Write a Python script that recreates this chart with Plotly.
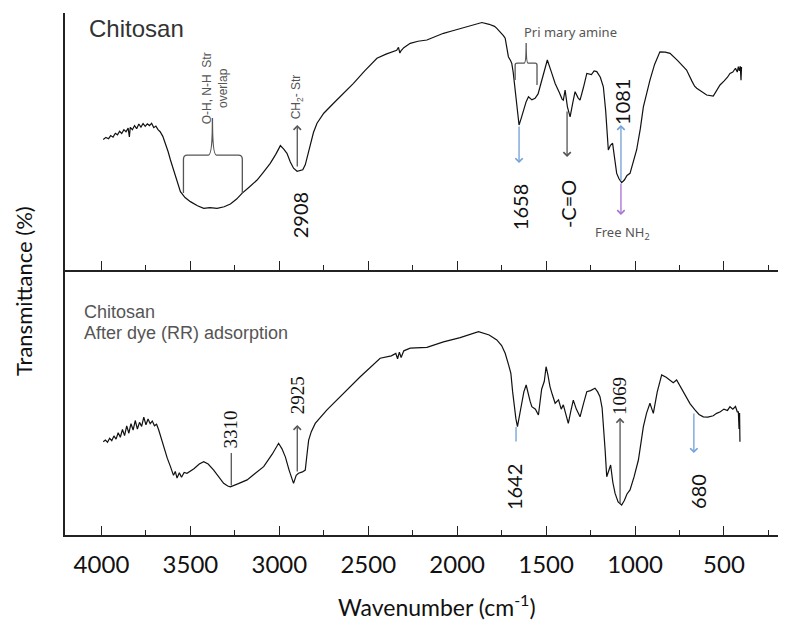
import plotly.graph_objects as go

# ---------------- data ----------------
top_wn = [3990, 3975, 3960, 3948, 3935, 3922, 3910, 3898, 3886, 3874, 3862, 3850, 3843, 3838,
          3826, 3814, 3802, 3790, 3778, 3766, 3754, 3742, 3730, 3718, 3706, 3694, 3682, 3670,
          3655, 3640, 3625, 3612, 3598, 3584, 3570, 3556, 3530, 3500, 3460, 3425, 3390, 3350,
          3310, 3275, 3240, 3210, 3170, 3125, 3090, 3051, 3020, 2994, 2975, 2957, 2938, 2920,
          2900, 2882, 2868, 2854, 2840, 2826, 2808, 2788, 2750, 2695, 2640, 2583, 2520, 2451,
          2400, 2358, 2340, 2330, 2322, 2316, 2300, 2264, 2220, 2170, 2120, 2077, 2030, 1983,
          1940, 1900, 1861, 1820, 1790, 1777, 1755, 1740, 1730, 1720, 1712, 1700, 1693, 1685,
          1680, 1670, 1660, 1652, 1640, 1627, 1612, 1599, 1580, 1562, 1545, 1534, 1515, 1493,
          1470, 1449, 1425, 1410, 1403, 1393, 1380, 1365, 1350, 1337, 1320, 1309, 1290, 1271,
          1245, 1230, 1215, 1195, 1178, 1165, 1150, 1138, 1126, 1115, 1103, 1090, 1075, 1060,
          1045, 1028, 1010, 991, 970, 953, 935, 916, 890, 860, 830, 803, 760, 730, 710, 680,
          665, 653, 630, 610, 597, 560, 540, 522, 500, 480, 466, 450, 435, 425, 419, 413,
          408, 404, 401]
top_T = [50.8, 51.6, 51.1, 52.3, 51.7, 53.2, 52.6, 54.0, 53.1, 54.6, 53.8, 55.2, 51.8, 55.5,
         54.6, 56.2, 55.0, 56.8, 55.6, 57.0, 55.9, 56.9, 56.2, 57.1, 55.4, 56.0, 54.6, 53.8,
         52.0, 49.3, 46.0, 42.8, 39.5, 36.3, 33.2, 30.5, 28.2, 26.6, 25.0, 24.0, 24.3, 24.0,
         24.6, 25.7, 27.6, 29.8, 32.2, 35.0, 38.0, 41.5, 45.0, 48.4, 47.0, 45.4, 42.0, 39.6,
         38.4, 38.6, 39.0, 40.9, 45.0, 49.3, 53.5, 57.1, 61.0, 64.9, 68.8, 72.6, 77.5, 82.4,
         84.0, 84.9, 85.5, 86.6, 84.4, 85.3, 86.5, 88.2, 89.0, 89.5, 90.8, 92.1, 93.0, 94.0,
         94.8, 95.6, 96.3, 95.6, 94.8, 94.0, 92.5, 91.2, 90.2, 86.0, 83.0, 81.5, 80.4, 77.0,
         73.9, 66.0, 59.5, 56.4, 59.0, 62.3, 65.5, 67.4, 66.2, 66.8, 68.5, 71.3, 76.5, 81.7,
         77.0, 72.6, 69.0, 66.5, 66.1, 70.0, 63.5, 59.6, 65.0, 69.4, 67.0, 66.1, 71.0, 76.5,
         76.0, 77.5, 77.2, 75.0, 71.3, 62.0, 46.7, 48.5, 49.3, 43.0, 37.6, 35.5, 34.0, 35.0,
         36.8, 37.6, 42.0, 46.7, 55.0, 63.5, 68.5, 73.9, 80.0, 84.9, 84.8, 84.3, 81.5, 79.5,
         77.8, 73.5, 71.5, 70.7, 69.5, 68.5, 68.1, 67.7, 70.0, 72.0, 73.5, 75.0, 76.5, 77.0,
         78.5, 77.0, 79.1, 77.5, 79.3, 73.8, 79.0]

bot_wn = [3990, 3978, 3966, 3954, 3942, 3930, 3918, 3906, 3894, 3882, 3870, 3858, 3846, 3834,
          3822, 3810, 3798, 3786, 3774, 3762, 3750, 3738, 3726, 3714, 3702, 3690, 3678, 3665,
          3650, 3630, 3612, 3595, 3585, 3575, 3562, 3550, 3535, 3519, 3480, 3450, 3425, 3400,
          3369, 3340, 3313, 3290, 3275, 3230, 3181, 3140, 3088, 3040, 3004, 2985, 2966, 2945,
          2930, 2920, 2905, 2892, 2870, 2854, 2845, 2835, 2820, 2798, 2732, 2639, 2545, 2433,
          2370, 2345, 2335, 2325, 2315, 2300, 2264, 2170, 2077, 1983, 1930, 1880, 1820, 1777,
          1750, 1730, 1710, 1698, 1688, 1680, 1670, 1661, 1650, 1637, 1625, 1612, 1600, 1590,
          1580, 1560, 1543, 1525, 1510, 1500, 1490, 1478, 1465, 1449, 1430, 1415, 1403, 1390,
          1375, 1360, 1347, 1330, 1309, 1290, 1271, 1250, 1225, 1210, 1197, 1185, 1178, 1168,
          1159, 1148, 1137, 1125, 1112, 1095, 1075, 1060, 1045, 1028, 1005, 981, 965, 953,
          935, 916, 905, 897, 875, 850, 825, 803, 785, 766, 740, 710, 690, 663, 640, 616,
          590, 560, 541, 520, 500, 480, 466, 450, 435, 425, 419, 415, 412, 410]
bot_T = [35.2, 35.8, 35.0, 36.5, 35.6, 37.4, 36.2, 38.6, 36.9, 39.8, 37.5, 41.2, 38.4, 42.0,
         39.6, 43.2, 40.0, 42.5, 41.0, 44.5, 41.6, 43.8, 42.0, 43.0, 41.2, 41.8, 39.6, 36.5,
         33.3, 29.0, 25.8, 22.5, 24.0, 21.5, 23.5, 21.8, 23.6, 23.3, 25.0, 26.8, 27.7, 26.8,
         24.5, 21.8, 19.5, 18.5, 18.2, 19.4, 20.8, 23.0, 25.8, 30.5, 34.6, 32.5, 29.5, 24.5,
         21.0, 19.5, 22.5, 23.3, 23.8, 24.5, 30.0, 35.8, 39.0, 42.1, 47.2, 53.5, 59.7, 66.7,
         67.6, 68.5, 66.5, 69.0, 67.0, 69.5, 70.5, 70.8, 72.9, 74.5, 75.5, 76.7, 75.5, 73.6,
         71.5, 68.6, 64.0, 61.0, 54.0, 48.4, 44.0, 40.9, 45.0, 50.9, 54.0, 56.6, 52.5, 50.5,
         48.4, 47.5, 45.3, 55.0, 58.0, 63.5, 60.5, 56.0, 53.0, 49.7, 51.0, 47.5, 49.1, 46.0,
         42.1, 47.0, 50.9, 47.5, 44.6, 49.5, 54.1, 54.5, 55.4, 54.0, 52.2, 48.0, 42.1, 32.0,
         22.0, 24.5, 26.4, 20.0, 15.7, 12.5, 11.3, 13.0, 15.5, 17.0, 22.0, 28.3, 35.0, 40.9,
         46.0, 49.7, 47.5, 45.9, 54.0, 60.4, 59.5, 58.5, 57.5, 58.5, 55.5, 52.2, 49.5, 47.2,
         45.5, 44.6, 44.5, 45.0, 45.9, 46.5, 47.5, 47.0, 48.4, 47.5, 48.5, 46.5, 46.5, 40.0,
         46.0, 35.2]

x_ticks = [4000, 3500, 3000, 2500, 2000, 1500, 1000, 500]
x_tick_labels = ["4000", "3500", "3000", "2500", "2000", "1500", "1000", "500"]

# ---------------- figure ----------------
# the page body has an 8px default margin, so the figure is 8px smaller
OFF = 8
W, H = 786 - OFF, 634 - OFF
ML, MR, MT, MB = 65 - OFF, 0, 13 - OFF, 634 - 535
split = 265 / 522.0

fig = go.Figure()
line_style = dict(color="#111111", width=1.2)
fig.add_trace(go.Scatter(x=top_wn, y=top_T, mode="lines", line=line_style,
                         xaxis="x", yaxis="y", showlegend=False, hoverinfo="skip"))
fig.add_trace(go.Scatter(x=bot_wn, y=bot_T, mode="lines", line=line_style,
                         xaxis="x2", yaxis="y2", showlegend=False, hoverinfo="skip"))

xr = [4205, 151]
axis_common = dict(range=xr, showgrid=False, zeroline=False, showline=True,
                   linecolor="#222222", linewidth=1.6, ticks="inside", ticklen=9,
                   tickwidth=1.4, tickcolor="#222222", tickvals=x_ticks,
                   minor=dict(dtick=250, tick0=0, ticks="inside", ticklen=5,
                              tickwidth=1.2, tickcolor="#222222"))
yaxis_common = dict(range=[0, 100], showgrid=False, zeroline=False, showline=True,
                    linecolor="#222222", linewidth=1.6, ticks="", showticklabels=False)

fig.update_layout(
    width=W, height=H, margin=dict(l=ML, r=MR, t=MT, b=MB),
    paper_bgcolor="white", plot_bgcolor="white",
    xaxis=dict(**axis_common, anchor="y", showticklabels=False),
    yaxis=dict(**yaxis_common, domain=[split, 1], anchor="x"),
    xaxis2=dict(**axis_common, anchor="y2", ticktext=x_tick_labels, showticklabels=True,
                ticklabelstandoff=7,
                tickfont=dict(family="Lato", size=24, color="#111111")),
    yaxis2=dict(**yaxis_common, domain=[0, split], anchor="x2"),
)

gray = "#555555"
blue = "#6fa0d8"
purple = "#a66fd6"
ann = []

def txt(text, x, y, xref, yref, size, color="#111111", family="Lato", angle=0,
        xanchor="center", yanchor="middle", align="center"):
    ann.append(dict(text=text, x=x, y=y, xref=xref, yref=yref, showarrow=False,
                    textangle=angle, xanchor=xanchor, yanchor=yanchor, align=align,
                    font=dict(family=family, size=size, color=color)))

def arrow(x, y_tail, y_head, xref, yref, color, head=4, size=1.1):
    ann.append(dict(text="", x=x, y=y_head, ax=x, ay=y_tail, xref=xref, yref=yref,
                    axref=xref, ayref=yref, showarrow=True, arrowhead=head,
                    arrowsize=size, arrowwidth=1.3, arrowcolor=color))

# top panel texts
txt("Chitosan", 4079, 93.8, "x", "y", 24, color="#333333", family="Liberation Sans",
    xanchor="left")
txt("O-H, N-H  Str<br>overlap", 3360, 70.8, "x", "y", 12, color=gray,
    family="Liberation Sans", angle=-90)
txt("CH<sub>2</sub>- Str", 2899, 67.3, "x", "y", 12, color=gray,
    family="Liberation Sans", angle=-90)
arrow(2899, 39.7, 56.4, "x", "y", gray)
txt("2908", 2882, 21.4, "x", "y", 20, angle=-90)
txt("Pri mary amine", 1365, 92.6, "x", "y", 13, color=gray, family="Noto Sans")
arrow(1652, 56.4, 41.6, "x", "y", blue)
txt("1658", 1646, 24.5, "x", "y", 20, angle=-90)
arrow(1382, 62.3, 44.0, "x", "y", gray)
txt("-C=O", 1376, 25.7, "x", "y", 20, angle=-90)
arrow(1079, 34.2, 56.4, "x", "y", blue)
arrow(1079, 34.2, 21.4, "x", "y", purple)
txt("1081", 1073, 65.4, "x", "y", 20, angle=-90)
txt("Free NH<sub>2</sub>", 1073, 14.4, "x", "y", 13, color=gray, family="Noto Sans")

# bottom panel texts
txt("Chitosan", 4112, 84.2, "x2", "y2", 18, color=gray, family="Liberation Sans",
    xanchor="left")
txt("After dye (RR) adsorption", 4112, 76.2, "x2", "y2", 18, color=gray,
    family="Liberation Sans", xanchor="left")
txt("3310", 3275, 40.0, "x2", "y2", 19, family="Liberation Serif", angle=-90)
arrow(3270, 18.1, 30.9, "x2", "y2", gray, head=0)
txt("2925", 2899, 52.8, "x2", "y2", 19, family="Liberation Serif", angle=-90)
arrow(2899, 23.4, 41.5, "x2", "y2", gray)
txt("1642", 1680, 18.1, "x2", "y2", 20, angle=-90)
arrow(1669, 34.7, 40.8, "x2", "y2", blue, head=0)
txt("1069", 1084, 52.5, "x2", "y2", 19, family="Liberation Serif", angle=-90)
arrow(1084, 11.3, 44.2, "x2", "y2", gray)
arrow(669, 46.4, 30.9, "x2", "y2", blue)
txt("680", 646, 16.6, "x2", "y2", 20, angle=-90)

# axis titles (reference pixel positions -> paper fractions)
pw = W - ML - MR
ph = H - MT - MB
txt("Wavenumber (cm<sup>-1</sup>)", (437 - 65) / pw, (535 - 605) / ph, "paper", "paper", 23)
txt("Transmittance (%)", (23 - 65) / pw, (535 - 291) / ph, "paper", "paper", 22, angle=-90)

fig.update_layout(annotations=ann)

# brackets
fig.add_shape(type="path", xref="x", yref="y",
              path="M 3539,30 L 3539,43.1 Q 3539,44.7 3517,44.7 L 3398,44.7 "
                   "Q 3376,44.7 3376,59.1 Q 3376,44.7 3354,44.7 L 3230,44.7 "
                   "Q 3208,44.7 3208,43.1 L 3208,30",
              line=dict(color=gray, width=1.3))
fig.add_shape(type="path", xref="x", yref="y",
              path="M 1674,73.9 L 1674,79.7 Q 1674,80.5 1663,80.5 L 1623,80.5 "
                   "Q 1612,80.5 1612,88.3 Q 1612,80.5 1601,80.5 L 1562,80.5 "
                   "Q 1551,80.5 1551,79.7 L 1551,72.0",
              line=dict(color=gray, width=1.3))

fig.write_html("out.html")
